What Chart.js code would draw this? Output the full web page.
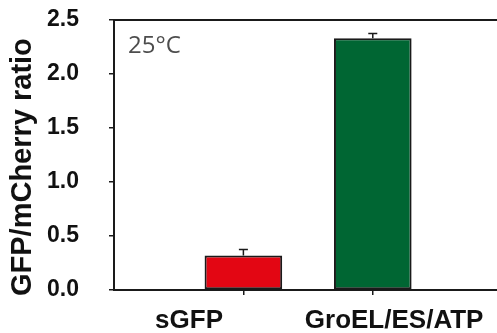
<!DOCTYPE html>
<html>
<head>
<meta charset="utf-8">
<script src="https://cdn.jsdelivr.net/npm/chart.js@4"></script>
<style>
  html, body { margin: 0; padding: 0; background: #fff; overflow: hidden; }
</style>
</head>
<body>
<canvas id="myChart" width="497" height="333"></canvas>
<script>
const categories = ['sGFP', 'GroEL/ES/ATP'];
const ratioValues = [0.32, 2.33];
const ratioErrors = [0.055, 0.045];
const barColors = ['#e30613', '#006633'];
const yTicks = [0, 0.5, 1.0, 1.5, 2.0, 2.5];
const yTitle = 'GFP/mCherry ratio';
const tempLabel = '25°C';

// where the category names sit on the x axis (they are not centred on the bars)
const labelSpots = [0.58, 2.165];

const ink = '#1a1a1a';

// top line of the frame + temperature note
const framePlugin = {
  id: 'frame',
  afterDraw(chart) {
    const {ctx, chartArea} = chart;
    ctx.save();
    ctx.strokeStyle = ink;
    ctx.lineWidth = 2;
    ctx.beginPath();
    ctx.moveTo(chartArea.left, chartArea.top);
    ctx.lineTo(chartArea.right, chartArea.top);
    ctx.stroke();
    ctx.fillStyle = '#4d4d4d';
    ctx.font = '24px "Open Sans"';
    ctx.textBaseline = 'alphabetic';
    ctx.fillText(tempLabel, chartArea.left + 14, chartArea.top + 33);
    ctx.restore();
  }
};

// upper error bars
const errorBars = {
  id: 'errorBars',
  afterDatasetsDraw(chart) {
    const ctx = chart.ctx;
    const yScale = chart.scales.y;
    const meta = chart.getDatasetMeta(0);
    ctx.save();
    ctx.strokeStyle = ink;
    ctx.lineWidth = 1.5;
    meta.data.forEach((bar, i) => {
      const top = yScale.getPixelForValue(ratioValues[i] + ratioErrors[i]);
      ctx.beginPath();
      ctx.moveTo(bar.x, bar.y);
      ctx.lineTo(bar.x, top);
      ctx.moveTo(bar.x - 4.5, top);
      ctx.lineTo(bar.x + 4.5, top);
      ctx.stroke();
    });
    ctx.restore();
  }
};

const data = {
  datasets: [{
    data: categories.map((c, i) => ({x: i + 1, y: ratioValues[i]})),
    backgroundColor: barColors,
    borderColor: ink,
    borderWidth: 2,
    borderSkipped: false,
    categoryPercentage: 1,
    barPercentage: 0.6
  }]
};

const config = {
  type: 'bar',
  data,
  options: {
    responsive: false,
    animation: false,
    layout: {padding: {top: 20, right: 0, left: 0, bottom: 0}},
    plugins: {
      legend: {display: false},
      tooltip: {enabled: false}
    },
    scales: {
      x: {
        type: 'linear',
        min: 0,
        max: 2.96,
        offset: false,
        weight: 0,
        afterBuildTicks: (s) => { s.ticks = categories.map((c, i) => ({value: i + 1})); },
        afterFit: (s) => { s.height = 6; },
        ticks: {display: false},
        grid: {offset: false, drawOnChartArea: false, drawTicks: true, tickLength: 5, color: ink, lineWidth: 1.5},
        border: {display: true, color: ink, width: 2}
      },
      xLabels: {
        type: 'linear',
        position: 'bottom',
        axis: 'x',
        min: 0,
        max: 2.96,
        offset: false,
        weight: 1,
        afterBuildTicks: (s) => { s.ticks = labelSpots.map(v => ({value: v})); },
        afterFit: (s) => { s.height = 37; },
        ticks: {
          autoSkip: false,
          maxRotation: 0,
          padding: 1,
          color: '#111',
          font: {family: '"Liberation Sans", Arial, sans-serif', size: 26, weight: 'bold'},
          callback: (v, i) => categories[i]
        },
        grid: {display: false, offset: false},
        border: {display: false}
      },
      y: {
        min: 0,
        max: 2.5,
        afterBuildTicks: (s) => { s.ticks = yTicks.map(v => ({value: v})); },
        afterFit: (s) => { s.width = 114; s.paddingTop = 0; s.paddingBottom = 0; },
        ticks: {
          padding: 30,
          color: '#111',
          font: {family: '"Liberation Sans", Arial, sans-serif', size: 23, weight: 'bold'},
          callback: (v) => v.toFixed(1)
        },
        grid: {drawOnChartArea: false, drawTicks: true, tickLength: 5, color: ink, lineWidth: 1.5},
        border: {display: true, color: ink, width: 2},
        title: {
          display: true,
          text: yTitle + '   ',
          color: '#111',
          padding: {top: 6, bottom: 0},
          font: {family: '"Liberation Sans", Arial, sans-serif', size: 29, weight: 'bold'}
        }
      }
    }
  },
  plugins: [errorBars, framePlugin]
};

const myChart = new Chart(document.getElementById('myChart'), config);
</script>
</body>
</html>
